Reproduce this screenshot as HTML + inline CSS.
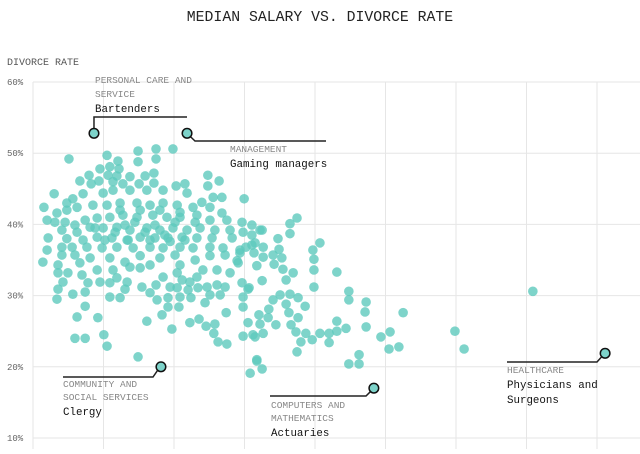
<!DOCTYPE html>
<html><head><meta charset="utf-8">
<style>
html,body{margin:0;padding:0;background:#fff;}
body{width:640px;height:449px;overflow:hidden;font-family:"Liberation Mono",monospace;}
svg text{font-family:"Liberation Mono",monospace;}
</style></head>
<body>
<svg id="chart" width="640" height="449" viewBox="0 0 640 449" xmlns="http://www.w3.org/2000/svg">
<text x="320" y="21" text-anchor="middle" font-size="14.8" fill="#222">MEDIAN SALARY VS. DIVORCE RATE</text>
<text x="7" y="65" font-size="10" fill="#555">DIVORCE RATE</text>
<g id="grid"></g>
<g id="yticks"></g>
<g id="dots"></g>
<g id="notes"></g>
</svg>
<script>
// rate ticks (%)
const yTicks = [60, 50, 40, 30, 20, 10];
// salary gridlines ($k)
const xTicks = [0, 20, 40, 60, 80, 100, 120, 140, 160];
// median salary ($k) per occupation
const salary = [10.2,21.0,24.1,29.8,29.8,34.9,34.9,39.7,21.8,19.0,24.4,15.9,21.3,23.8,27.5,31.8,34.3,13.3,16.5,18.7,22.7,25.5,30.1,34.3,40.6,43.1,49.6,52.8,49.6,6.0,11.3,9.6,14.2,19.9,22.7,27.5,32.3,36.9,43.7,47.9,51.1,53.6,59.9,3.1,6.8,9.6,12.5,17.0,21.0,24.7,29.5,33.2,36.9,40.9,45.4,50.2,53.6,4.0,6.2,9.1,11.9,14.8,18.2,21.8,25.5,29.5,34.0,38.0,41.7,46.5,50.2,55.0,59.3,62.1,64.4,8.2,12.5,16.2,19.9,23.8,27.5,32.3,36.0,39.7,43.7,47.4,51.6,55.9,59.6,4.3,9.6,14.2,18.2,22.4,26.7,30.4,34.6,38.3,42.3,46.5,50.8,56.5,62.1,4.0,8.2,11.1,15.3,19.6,23.8,28.4,33.2,36.9,41.7,45.4,50.2,53.9,58.7,62.1,
2.8,8.2,7.1,7.1,8.5,7.1,6.8,11.3,9.9,13.3,13.9,15.6,14.8,14.8,12.5,18.4,11.9,14.8,20.1,21.0,29.8,18.2,19.0,21.8,21.8,24.7,23.8,26.7,26.1,30.4,30.9,33.2,35.2,34.9,36.9,38.3,38.9,38.3,36.6,32.3,39.4,40.9,42.3,40.9,41.7,41.4,44.5,44.0,44.8,46.8,46.5,48.8,50.2,49.4,52.2,54.5,53.1,54.8,47.1,44.5,49.1,51.6,51.3,52.5,55.0,59.6,59.3,61.0,59.6,59.6,61.0,62.4,63.5,52.2,48.2,41.7,33.2,27.5,22.7,55.9,58.2,
65.0,63.0,65.3,60.4,58.7,62.7,65.3,68.1,70.6,69.5,69.8,72.9,74.9,72.9,57.9,63.5,68.4,70.9,73.8,71.8,65.0,61.3,81.4,79.4,79.7,79.7,79.7,86.2,89.6,89.6,94.5,94.2,94.5,105.0,98.7,101.3,101.0,103.8,92.5,89.6,92.5,63.0,65.3,64.4,64.1,66.7,66.9,68.1,70.1,72.9,71.8,75.2,77.2,72.6,75.2,73.2,68.9,74.6,77.4,76.0,79.2,81.4,84.0,86.2,86.2,88.8,84.0,74.9,63.5,65.0,61.6,119.7,122.3,141.8,
26.1,28.9,31.8,34.6,37.4,40.3,43.1,46.0,20.4,17.6,23.3,27.0,33.2,38.9,30.4,36.0,24.7,41.7,11.9,16.2,21.8,26.1,30.4,36.0,40.3,46.0,50.2,54.5];
// divorce rate (%) per occupation
const rate = [49.2,49.7,48.9,50.3,48.8,50.6,49.2,50.6,48.1,47.8,47.8,46.9,46.9,46.8,46.7,46.8,47.2,46.1,45.7,46.1,46.0,45.7,45.7,45.8,45.4,45.7,46.9,46.1,45.4,44.3,43.6,43.0,44.3,44.4,44.8,44.8,44.8,44.8,44.4,43.1,43.8,43.8,43.6,42.4,41.6,42.0,42.4,42.7,42.7,43.0,43.0,42.7,43.0,42.7,42.4,42.4,41.6,40.6,40.3,40.3,39.9,40.6,40.9,41.0,41.3,41.0,41.3,41.0,41.0,41.3,40.6,40.6,40.3,39.9,39.2,39.2,38.9,39.6,39.5,39.6,39.2,39.5,39.2,39.5,39.2,39.5,39.2,39.2,38.9,38.1,38.0,37.8,38.2,38.1,37.8,38.2,38.1,38.1,38.2,38.1,38.1,38.1,38.5,36.4,36.8,36.8,36.8,36.7,36.8,36.7,36.8,36.7,36.8,36.7,36.8,36.7,36.4,37.1,
34.7,35.7,34.3,33.2,31.9,30.9,29.5,30.2,33.2,34.6,32.9,31.8,30.5,28.5,27.0,26.9,24.0,24.0,24.5,22.9,21.4,33.6,31.9,31.8,29.8,29.7,32.5,31.9,30.9,33.9,31.2,30.4,29.4,31.5,32.6,29.7,31.2,28.4,27.3,26.4,25.3,33.2,32.2,31.1,29.8,28.4,31.9,30.8,29.7,31.1,32.6,29.0,30.1,31.2,31.5,31.2,30.1,27.6,26.7,26.2,25.7,26.0,24.7,23.5,23.2,24.3,31.8,30.9,29.8,28.4,26.2,24.5,21.0,33.6,33.6,34.3,34.3,34.0,33.6,33.2,34.6,
39.2,37.4,36.8,36.8,36.0,36.0,35.4,35.7,35.3,38.0,36.5,40.1,40.9,38.7,34.9,34.2,34.4,33.7,33.2,32.2,32.1,31.1,37.4,36.4,35.1,33.6,31.2,33.3,30.6,29.4,29.1,27.7,25.6,27.6,24.2,24.9,22.5,22.8,21.7,20.4,20.4,24.2,24.7,26.0,27.3,26.9,28.1,29.4,30.1,30.2,28.8,29.7,28.5,27.6,26.9,25.9,25.9,24.9,24.7,23.5,23.8,24.7,24.7,25.0,26.4,25.4,23.4,22.1,20.8,19.7,19.1,25.0,22.5,30.6,
39.9,40.3,38.9,39.9,38.5,40.3,37.8,40.3,37.8,39.5,38.9,37.8,37.8,37.6,42.0,42.0,42.0,41.7,35.7,35.3,35.3,34.7,35.6,35.3,35.7,35.0,35.6,35.7];
// highlighted occupations
const hlSalary = [17.3, 43.7, 36.3, 96.7, 162.3];
const hlRate = [52.8, 52.8, 20.0, 17.0, 21.9];

const NS = "http://www.w3.org/2000/svg";
const xS = v => 33 + v * 3.525;
const yS = v => 82 + (60 - v) * 7.12;
function mk(tag, attrs, parent){const e=document.createElementNS(NS,tag);for(const k in attrs)e.setAttribute(k,attrs[k]);parent.appendChild(e);return e;}

const grid=document.getElementById('grid');
yTicks.forEach(t=>{
  const l=mk('line',{x1:33,x2:640,y1:yS(t),y2:yS(t),stroke:'#e6e6e6','stroke-width':1},grid);
  
  
  const tx=mk('text',{x:7,y:yS(t)+3,'font-size':9,fill:'#666'},document.getElementById('yticks'));
  tx.textContent=t+'%';
  
  
});
xTicks.forEach(t=>{
  const l=mk('line',{x1:xS(t),x2:xS(t),y1:yS(60),y2:449,stroke:'#e6e6e6','stroke-width':1},grid);
  
  
});
const dots=document.getElementById('dots');
salary.forEach((s,i)=>{
  const c=mk('circle',{cx:xS(s),cy:yS(rate[i]),r:4.8,fill:'#5ec9bd','fill-opacity':0.8},dots);
  
  
});
const notes=document.getElementById('notes');
function path(d,name){const p=mk('path',{d:d,fill:'none',stroke:'#222','stroke-width':1.5},notes);}
const hp = hlSalary.map((s,i)=>[xS(s),yS(hlRate[i])]);
path(`M${hp[0][0]},${hp[0][1]-5} L${hp[0][0]},117 L187,117`,'bartenders-leader');
path(`M${hp[1][0]+3},${hp[1][1]+3} L195,141 L326,141`,'gaming-managers-leader');
path(`M63,377 L153,377 L${hp[2][0]-3},${hp[2][1]+3}`,'clergy-leader');
path(`M270,396 L366,396 L${hp[3][0]-3},${hp[3][1]+3}`,'actuaries-leader');
path(`M507,362 L597,362 L${hp[4][0]-3},${hp[4][1]+3}`,'physicians-leader');
hp.forEach(p=>{
  const c=mk('circle',{cx:p[0],cy:p[1],r:4.8,fill:'#7dd3ca',stroke:'#111','stroke-width':1.5},notes);
  
  
});
function txt(x,y,s,cat,name){const t=mk('text',{x:x,y:y,'font-size':cat?9.5:10.8,fill:cat?'#888':'#111'},notes);t.textContent=s;}
txt(95,83,'PERSONAL CARE AND',1,'category-label');
txt(95,97,'SERVICE',1,'category-label');
txt(95,112,'Bartenders',0,'occupation-label');
txt(230,152,'MANAGEMENT',1,'category-label');
txt(230,167,'Gaming managers',0,'occupation-label');
txt(63,387,'COMMUNITY AND',1,'category-label');
txt(63,400,'SOCIAL SERVICES',1,'category-label');
txt(63,415,'Clergy',0,'occupation-label');
txt(271,408,'COMPUTERS AND',1,'category-label');
txt(271,421,'MATHEMATICS',1,'category-label');
txt(271,436,'Actuaries',0,'occupation-label');
txt(507,373,'HEALTHCARE',1,'category-label');
txt(507,388,'Physicians and',0,'occupation-label');
txt(507,403,'Surgeons',0,'occupation-label');
</script>
</body></html>
